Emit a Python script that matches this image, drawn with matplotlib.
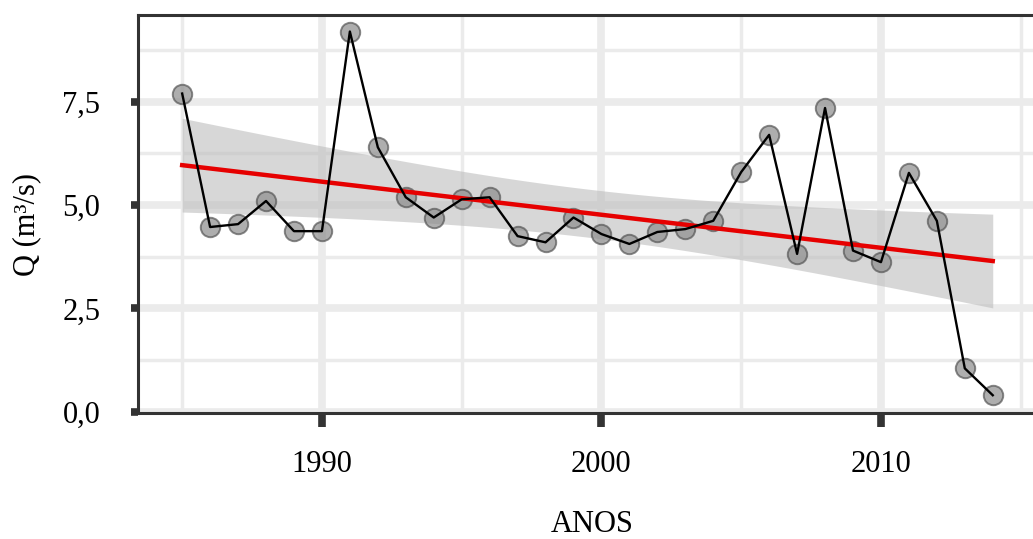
import numpy as np
import matplotlib
matplotlib.use('Agg')
import matplotlib.pyplot as plt
from matplotlib.ticker import MultipleLocator, FuncFormatter

# annual mean discharge
anos = [1985, 1986, 1987, 1988, 1989, 1990, 1991, 1992, 1993, 1994,
        1995, 1996, 1997, 1998, 1999, 2000, 2001, 2002, 2003, 2004,
        2005, 2006, 2007, 2008, 2009, 2010, 2011, 2012, 2013, 2014]
vazao = [7.70, 4.47, 4.54, 5.10, 4.37, 4.37, 9.20, 6.40, 5.19, 4.70,
         5.14, 5.19, 4.25, 4.10, 4.70, 4.30, 4.06, 4.35, 4.42, 4.62,
         5.80, 6.70, 3.82, 7.35, 3.90, 3.62, 5.78, 4.62, 1.05, 0.40]

plt.rcParams['font.family'] = ['Liberation Serif', 'DejaVu Serif']

x = np.array(anos, dtype=float)
y = np.array(vazao)

# linear fit + 95% confidence band (like geom_smooth(method='lm'))
n = len(x)
b1, b0 = np.polyfit(x, y, 1)
resid = y - (b0 + b1 * x)
s = np.sqrt(np.sum(resid ** 2) / (n - 2))
sxx = np.sum((x - x.mean()) ** 2)
xf = np.linspace(x.min(), x.max(), 100)
yf = b0 + b1 * xf
se = s * np.sqrt(1 / n + (xf - x.mean()) ** 2 / sxx)
t975 = 2.048  # t quantile, 28 df
lo, hi = yf - t975 * se, yf + t975 * se

fig = plt.figure(figsize=(10.33, 5.39), dpi=100)
ax = fig.add_axes([138 / 1033, 126 / 539, 895 / 1033, 398 / 539])

ax.fill_between(xf, lo, hi, color='#bdbdbd', alpha=0.6, lw=0, zorder=2)
ax.plot(x, y, 'o', ms=14, mfc='#8c8c8c', mec='#555555', mew=1.4, alpha=0.7, zorder=3)
ax.plot(xf, yf, color='#e60000', lw=3.2, zorder=4)
ax.plot(x, y, color='black', lw=1.7, zorder=5)

ax.set_xlim(1983.42, 2015.44)
ax.set_ylim(-0.03, 9.6)

ax.xaxis.set_major_locator(MultipleLocator(10))
ax.xaxis.set_minor_locator(MultipleLocator(5))
ax.yaxis.set_major_locator(MultipleLocator(2.5))
ax.yaxis.set_minor_locator(MultipleLocator(1.25))
ax.yaxis.set_major_formatter(FuncFormatter(lambda v, p: f'{v:.1f}'.replace('.', ',')))
ax.xaxis.set_major_formatter(FuncFormatter(lambda v, p: f'{int(v)}'))

ax.grid(which='major', color='#ebebeb', lw=5.5, zorder=0)
ax.grid(which='minor', color='#ebebeb', lw=2.5, zorder=0)
ax.set_axisbelow(True)

for side in ['left', 'bottom', 'top']:
    ax.spines[side].set_color('#333333')
    ax.spines[side].set_linewidth(2.2)
ax.spines['right'].set_visible(False)

ax.tick_params(axis='x', which='major', length=10, width=5.5, color='#333333',
               labelsize=22, pad=17)
ax.tick_params(axis='y', which='major', length=5, width=5.5, color='#333333',
               labelsize=22, pad=22)
ax.tick_params(which='minor', length=0)

fig.text(592 / 1033, 1 - 525 / 539, 'ANOS', ha='center', va='center', fontsize=22)
fig.text(27 / 1033, 1 - 224 / 539, 'Q (m³/s)', ha='center', va='center',
         rotation=90, fontsize=22)

fig.savefig('out.png', dpi=100)
